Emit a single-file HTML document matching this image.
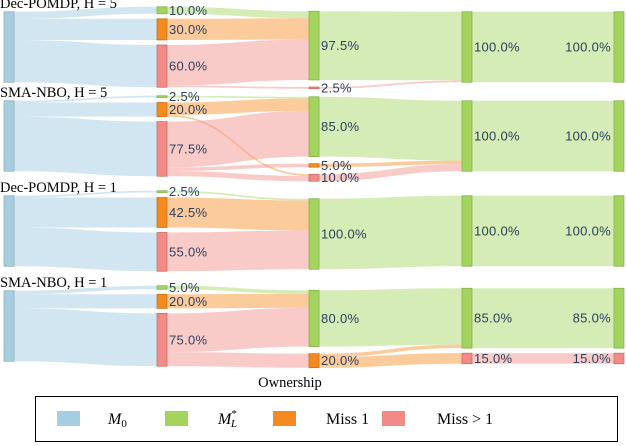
<!DOCTYPE html>
<html><head><meta charset="utf-8"><style>
html,body{margin:0;padding:0;background:#fff;}
svg{display:block;}
.lbl{font-family:"Liberation Sans",sans-serif;font-size:13px;fill:#2a3f5f;letter-spacing:0.3px;}
.ttl{font-family:"Liberation Serif",serif;font-size:14.5px;fill:#000;}
.leg{font-family:"Liberation Serif",serif;font-size:16px;fill:#000;}
</style></head><body>
<svg id="chart" width="626" height="446" viewBox="0 0 626 446">
<g id="links"></g>
<g id="nodes"></g>
<g id="labels"></g>
<g id="titles"></g>
<text class="ttl" x="290" y="387" text-anchor="middle">Ownership</text>
<g>
<rect x="35.5" y="396.5" width="582" height="45" fill="#fff" stroke="#000" stroke-width="1"/>
<g><rect x="57" y="411" width="23" height="15" fill="#a6cee3"/><text class="leg" x="108" y="424" font-style="italic">M<tspan font-size="11" dy="3" font-style="normal">0</tspan></text></g>
<g><rect x="165" y="411" width="23" height="15" fill="#a2d45e"/><text class="leg" x="218" y="424" font-style="italic">M<tspan font-size="11" dy="-7" font-style="normal">*</tspan><tspan font-size="11" dx="-6" dy="10">L</tspan></text></g>
<g><rect x="273" y="411" width="23" height="15" fill="#f58a1f"/><text class="leg" x="326" y="424">Miss 1</text></g>
<g><rect x="382" y="411" width="23" height="15" fill="#f28b86"/><text class="leg" x="437" y="424">Miss &gt; 1</text></g>
</g>
</svg>
<script>
// Data: group titles, node values per column [green, orange, red], links [fromIdx, toIdx, value]
const groupTitles = ["Dec-POMDP, H = 5", "SMA-NBO, H = 5", "Dec-POMDP, H = 1", "SMA-NBO, H = 1"];
const col1Values = [[10, 30, 60], [2.5, 20, 77.5], [2.5, 42.5, 55], [5, 20, 75]];
const col2Values = [[97.5, 0, 2.5], [85, 5, 10], [100, 0, 0], [80, 20, 0]];
const col3Values = [[100, 0, 0], [100, 0, 0], [100, 0, 0], [85, 0, 15]];
const col4Values = [[100, 0, 0], [100, 0, 0], [100, 0, 0], [85, 0, 15]];
const links12 = [
  [[0,0,10],[1,0,30],[2,0,57.5],[2,2,2.5]],
  [[0,0,2.5],[1,0,17.5],[1,2,2.5],[2,0,65],[2,1,5],[2,2,7.5]],
  [[0,0,2.5],[1,0,42.5],[2,0,55]],
  [[0,0,5],[1,0,20],[2,0,55],[2,1,20]]
];
const links23 = [
  [[0,0,97.5],[2,0,2.5]],
  [[0,0,85],[1,0,5],[2,0,10]],
  [[0,0,100]],
  [[0,0,80],[1,0,5],[1,2,15]]
];
const links34 = [
  [[0,0,100]],[[0,0,100]],[[0,0,100]],[[0,0,85],[2,2,15]]
];

const NS="http://www.w3.org/2000/svg";
const colX=[4,157,309,462,614], NW=10, K=0.705, GAP=5;
const groupCenters=[47,136,231,326];
const nodeFill=["#a2d45e","#f58a1f","#f28b86"], nodeStroke=["#7fae45","#c56a10","#c06a66"];
const linkFill=["rgba(162,212,94,0.45)","rgba(248,152,56,0.5)","rgba(242,139,134,0.45)"];
const gL=document.getElementById('links'),gN=document.getElementById('nodes'),gT=document.getElementById('labels'),gH=document.getElementById('titles');
function mk(tag,attrs,parent){const e=document.createElementNS(NS,tag);for(const k in attrs)e.setAttribute(k,attrs[k]);parent.appendChild(e);return e;}
function layout(vals,c,gap){const items=[];vals.forEach((v,i)=>{if(v>0)items.push(i);});
  const tot=items.reduce((s,i)=>s+vals[i]*K,0)+gap*(items.length-1);
  let y=c-tot/2;const pos={};items.forEach(i=>{pos[i]={y0:y,y1:y+vals[i]*K,off:0,inOff:0};y+=vals[i]*K+gap;});return pos;}
function flow(x0,y0a,y0b,x1,y1a,y1b,fill,name){
  const m=(x0+x1)/2;
  const d=`M${x0},${y0a}C${m},${y0a} ${m},${y1a} ${x1},${y1a}L${x1},${y1b}C${m},${y1b} ${m},${y0b} ${x0},${y0b}Z`;
  const p=mk('path',{d:d,fill:fill},gL);
  
  
}
function fmt(v){return v.toFixed(1)+"%";}
groupTitles.forEach((t,g)=>{
  const c=groupCenters[g];
  const tt=mk('text',{class:'ttl',x:0,y:c-39},gH);tt.textContent=t;
  
  
  const p0={0:{y0:c-100*K/2,y1:c+100*K/2,off:0,inOff:0}};
  const cols=[p0,layout(col1Values[g],c,GAP),layout(col2Values[g],c+3,GAP+2),layout(col3Values[g],c,GAP),layout(col4Values[g],c,GAP)];
  [0,1,2].forEach(i=>{const v=col1Values[g][i];if(!v)return;const s=cols[0][0],t2=cols[1][i];
    flow(colX[0]+NW,s.y0+s.off,s.y0+s.off+v*K,colX[1],t2.y0,t2.y1,"rgba(166,206,227,0.5)",'flow-m0');s.off+=v*K;});
  [[links12,1],[links23,2],[links34,3]].forEach(([L,ci])=>{
    L[g].forEach(([a,b,v])=>{const s=cols[ci][a],t2=cols[ci+1][b];
      flow(colX[ci]+NW,s.y0+s.off,s.y0+s.off+v*K,colX[ci+1],t2.y0+t2.inOff,t2.y0+t2.inOff+v*K,linkFill[a],'flow');
      s.off+=v*K;t2.inOff+=v*K;});
  });
  const r0=mk('rect',{x:colX[0],y:cols[0][0].y0,width:NW,height:cols[0][0].y1-cols[0][0].y0,fill:"#a6cee3",stroke:"#8aa",'stroke-width':0.7},gN);
  
  
  const vs=[null,col1Values[g],col2Values[g],col3Values[g],col4Values[g]];
  for(let ci=1;ci<5;ci++){for(const i in cols[ci]){const n=cols[ci][i];
    const r=mk('rect',{x:colX[ci],y:n.y0,width:NW,height:Math.max(n.y1-n.y0,1.5),fill:nodeFill[i],stroke:nodeStroke[i],'stroke-width':0.7},gN);
    
    
    const cy=(n.y0+n.y1)/2+4.5;
    const tx=ci<4?mk('text',{class:'lbl',x:colX[ci]+NW+2,y:cy},gT):mk('text',{class:'lbl',x:colX[ci]-3,y:cy,'text-anchor':'end'},gT);
    tx.textContent=fmt(vs[ci][i]);
    
    
  }}
});
</script>
</body></html>
